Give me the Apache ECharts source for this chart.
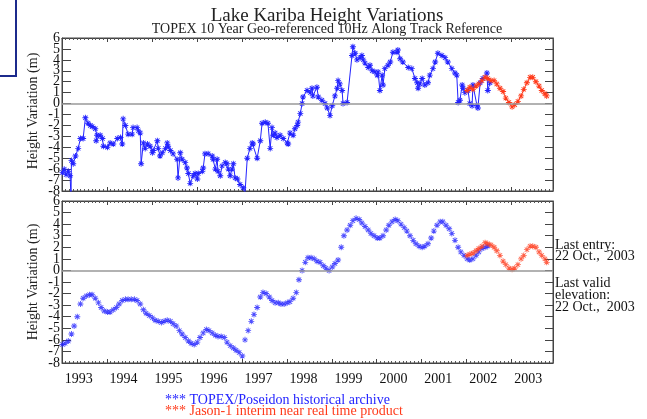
<!DOCTYPE html>
<html>
<head>
    <meta charset="utf-8">
    <script src="https://cdn.jsdelivr.net/npm/echarts@6/dist/echarts.min.js"></script>
</head>
<body style="margin:0">
    <div id="main" style="width: 647px; height: 419px"></div>
    <script type="text/javascript">
        // raw TOPEX heights (top panel)
        var topexRawYear = [1993.01, 1993.05, 1993.09, 1993.14, 1993.18, 1993.20, 1993.21, 1993.25, 1993.30, 1993.36,
            1993.41, 1993.47, 1993.52, 1993.58, 1993.63, 1993.67, 1993.74, 1993.78, 1993.76, 1993.85,
            1993.90, 1993.92, 1994.01, 1994.07, 1994.14, 1994.23, 1994.30, 1994.34, 1994.36, 1994.41,
            1994.47, 1994.56, 1994.58, 1994.67, 1994.70, 1994.74, 1994.76, 1994.81, 1994.85, 1994.90,
            1994.96, 1995.01, 1995.03, 1995.12, 1995.14, 1995.18, 1995.23, 1995.30, 1995.34, 1995.36,
            1995.41, 1995.47, 1995.56, 1995.58, 1995.63, 1995.67, 1995.74, 1995.78, 1995.81, 1995.85,
            1995.92, 1995.96, 1996.01, 1996.03, 1996.12, 1996.14, 1996.18, 1996.25, 1996.34, 1996.36,
            1996.41, 1996.45, 1996.47, 1996.52, 1996.56, 1996.63, 1996.67, 1996.70, 1996.74, 1996.78,
            1996.81, 1996.85, 1996.90, 1996.96, 1997.03, 1997.07, 1997.12, 1997.18, 1997.23, 1997.25,
            1997.34, 1997.41, 1997.45, 1997.52, 1997.58, 1997.63, 1997.67, 1997.70, 1997.74, 1997.78,
            1997.85, 1997.92, 1998.01, 1998.03, 1998.07, 1998.14, 1998.18, 1998.23, 1998.25, 1998.30,
            1998.34, 1998.36, 1998.45, 1998.52, 1998.56, 1998.58, 1998.67, 1998.70, 1998.78, 1998.85,
            1998.90, 1998.96, 1999.01, 1999.07, 1999.12, 1999.14, 1999.18, 1999.23, 1999.25, 1999.34,
            1999.45, 1999.47, 1999.52, 1999.56, 1999.63, 1999.67, 1999.70, 1999.74, 1999.81, 1999.85,
            1999.90, 1999.96, 2000.01, 2000.03, 2000.07, 2000.12, 2000.14, 2000.18, 2000.25, 2000.30,
            2000.36, 2000.45, 2000.47, 2000.52, 2000.58, 2000.70, 2000.78, 2000.85, 2000.90, 2000.92,
            2000.96, 2001.01, 2001.07, 2001.14, 2001.18, 2001.25, 2001.30, 2001.36, 2001.45, 2001.52,
            2001.58, 2001.67, 2001.74, 2001.78, 2001.81, 2001.85, 2001.90, 2001.92, 2001.96, 2002.03,
            2002.07, 2002.12, 2002.14, 2002.23, 2002.25, 2002.30, 2002.36, 2002.45, 2002.47, 2002.52];
        var topexRawHeight = [-6.3, -6.0, -6.5, -6.2, -6.6, -8.5, -5.2, -5.5, -4.8, -4.1,
            -3.2, -3.2, -1.3, -1.8, -2.0, -2.1, -2.3, -2.9, -3.4, -2.9,
            -3.2, -3.9, -4.0, -3.6, -3.7, -3.2, -3.1, -3.7, -1.4, -2.0,
            -2.8, -2.8, -2.2, -2.2, -2.5, -2.7, -5.5, -3.6, -4.1, -3.7,
            -3.9, -4.5, -4.3, -3.4, -4.1, -4.8, -4.5, -4.1, -3.6, -3.9,
            -4.3, -4.6, -5.1, -6.8, -4.5, -5.1, -5.4, -5.9, -6.4, -7.3,
            -6.6, -6.4, -6.9, -6.4, -6.2, -5.9, -4.6, -4.6, -4.8, -5.1,
            -6.0, -5.1, -6.2, -6.6, -5.7, -5.4, -5.5, -6.0, -6.6, -6.0,
            -5.5, -6.8, -6.9, -7.4, -7.7, -8.2, -5.0, -4.1, -3.6, -3.7,
            -5.0, -3.4, -1.8, -1.7, -1.8, -4.1, -2.2, -2.9, -2.7, -3.1,
            -2.9, -3.2, -3.6, -3.7, -2.7, -2.9, -2.3, -2.0, -1.7, -0.9,
            0.0, 0.6, 1.2, 1.0, 1.4, 0.7, 1.5, 0.6, 0.3, 0.0,
            -0.4, -1.1, -0.2, 0.7, 1.4, 2.1, 1.8, 1.2, 0.0, 0.1,
            4.4, 5.2, 4.6, 4.0, 4.2, 4.4, 4.0, 3.7, 3.3, 3.5,
            3.0, 2.9, 2.6, 2.9, 1.2, 2.6, 1.7, 3.2, 3.5, 3.8,
            4.7, 4.7, 4.9, 4.1, 3.8, 3.3, 3.2, 2.3, 1.9, 1.4,
            1.8, 2.3, 1.7, 1.9, 2.6, 3.2, 3.8, 4.6, 4.4, 4.2,
            3.8, 3.2, 2.8, 2.6, 0.1, 0.3, 1.7, 1.4, 1.0, 1.2,
            0.0, -0.2, 1.7, -0.2, -0.4, 1.9, 2.3, 2.8, 1.2, 1.9];

        // Jason-1 interim product (same dates in both panels)
        var jasonYear = [2002.01, 2002.07, 2002.14, 2002.21, 2002.27, 2002.34, 2002.41, 2002.47, 2002.54, 2002.61,
            2002.67, 2002.74, 2002.81, 2002.87, 2002.94, 2003.01, 2003.07, 2003.14, 2003.21, 2003.27,
            2003.34, 2003.41, 2003.47, 2003.54, 2003.61, 2003.67, 2003.74, 2003.78];
        var jasonRawHeight = [1.2, 1.5, 1.3, 1.6, 1.8, 2.1, 2.4, 2.3, 2.1, 2.1,
            1.8, 1.4, 1.1, 0.5, 0.1, -0.3, -0.1, 0.2, 0.7, 1.3,
            1.9, 2.4, 2.4, 2.0, 1.6, 1.2, 0.9, 0.7];
        var jasonSmoothHeight = [1.3, 1.4, 1.5, 1.7, 1.9, 2.1, 2.4, 2.3, 2.2, 2.0,
            1.7, 1.3, 0.8, 0.5, 0.2, 0.1, 0.2, 0.5, 1.0, 1.3,
            1.8, 2.1, 2.1, 2.0, 1.6, 1.3, 1.0, 0.7];

        // smoothed TOPEX heights (bottom panel)
        var topexSmoothYear = [1993.01, 1993.07, 1993.14, 1993.21, 1993.27, 1993.34, 1993.41, 1993.47, 1993.54, 1993.61, 1993.67, 1993.74, 1993.81, 1993.87, 1993.94,
            1994.01, 1994.07, 1994.14, 1994.21, 1994.27, 1994.34, 1994.41, 1994.47, 1994.54, 1994.61, 1994.67, 1994.74, 1994.81, 1994.87, 1994.94,
            1995.01, 1995.07, 1995.14, 1995.21, 1995.27, 1995.34, 1995.41, 1995.47, 1995.54, 1995.61, 1995.67, 1995.74, 1995.81, 1995.87, 1995.94,
            1996.01, 1996.07, 1996.14, 1996.21, 1996.27, 1996.34, 1996.41, 1996.47, 1996.54, 1996.61, 1996.67, 1996.74, 1996.81, 1996.87, 1996.94,
            1997.01, 1997.07, 1997.14, 1997.21, 1997.27, 1997.34, 1997.41, 1997.47, 1997.54, 1997.61, 1997.67, 1997.74, 1997.81, 1997.87, 1997.94,
            1998.01, 1998.07, 1998.14, 1998.21, 1998.27, 1998.34, 1998.41, 1998.47, 1998.54, 1998.61, 1998.67, 1998.74, 1998.81, 1998.87, 1998.94,
            1999.01, 1999.07, 1999.14, 1999.21, 1999.27, 1999.34, 1999.41, 1999.47, 1999.54, 1999.61, 1999.67, 1999.74, 1999.81, 1999.87, 1999.94,
            2000.01, 2000.07, 2000.14, 2000.21, 2000.27, 2000.34, 2000.41, 2000.47, 2000.54, 2000.61, 2000.67, 2000.74, 2000.81, 2000.87, 2000.94,
            2001.01, 2001.07, 2001.14, 2001.21, 2001.27, 2001.34, 2001.41, 2001.47, 2001.54, 2001.61, 2001.67, 2001.74, 2001.81, 2001.87, 2001.94,
            2002.01, 2002.07, 2002.14, 2002.21, 2002.27, 2002.34, 2002.41, 2002.47];
        var topexSmoothHeight = [-6.4, -6.3, -6.1, -5.5, -4.8, -4.0, -2.9, -2.4, -2.2, -2.1, -2.1, -2.4, -2.8, -3.2, -3.5,
            -3.6, -3.6, -3.4, -3.2, -2.9, -2.6, -2.5, -2.5, -2.5, -2.5, -2.6, -2.9, -3.4, -3.7, -3.9,
            -4.1, -4.3, -4.4, -4.5, -4.4, -4.3, -4.4, -4.6, -4.8, -5.2, -5.5, -5.8, -6.1, -6.3, -6.4,
            -6.2, -5.8, -5.4, -5.1, -5.2, -5.4, -5.6, -5.7, -5.7, -5.8, -6.2, -6.5, -6.7, -6.9, -7.1,
            -7.4, -6.0, -5.2, -4.4, -3.8, -3.2, -2.3, -1.9, -2.0, -2.3, -2.6, -2.8, -2.8, -2.9, -2.9,
            -2.8, -2.7, -2.4, -1.9, -0.8, 0.0, 0.7, 1.1, 1.1, 1.0, 0.8, 0.7, 0.4, 0.2, 0.0,
            0.3, 0.6, 0.9, 2.0, 3.0, 3.5, 3.9, 4.3, 4.5, 4.4, 4.1, 3.8, 3.5, 3.2, 3.0,
            2.8, 2.8, 3.0, 3.5, 3.9, 4.2, 4.4, 4.3, 4.0, 3.7, 3.4, 3.0, 2.6, 2.3, 2.1,
            2.0, 2.1, 2.3, 2.8, 3.4, 3.9, 4.2, 4.2, 3.9, 3.6, 3.2, 2.6, 2.0, 1.6, 1.3,
            1.0, 0.9, 1.0, 1.3, 1.6, 1.9, 2.0, 2.1];

        var yearLabels = [1993, 1994, 1995, 1996, 1997, 1998, 1999, 2000, 2001, 2002, 2003];
        var edgeHeights = [-8, 6];

        var blue = '#2323ff';
        var red = '#ff3a1a';
        var serif = 'Liberation Serif';
        var star = 'path://M-0.6,-4H0.6V4H-0.6Z M-4,-0.6H4V0.6H-4Z M-3.3,-2.5L-2.5,-3.3L3.3,2.5L2.5,3.3Z M2.5,-3.3L3.3,-2.5L-2.5,3.3L-3.3,2.5Z';

        function zip(xs, ys) {
            var out = [];
            for (var i = 0; i < xs.length; i++) out.push([xs[i], ys[i]]);
            return out;
        }

        function xAxisFor(grid, pos, withLabels) {
            return {
                type: 'value', gridIndex: grid, position: pos,
                min: 1993, max: 2003.92, interval: 1,
                axisLine: { onZero: false, lineStyle: { color: '#444' } },
                axisTick: { inside: true, length: 4, lineStyle: { color: '#444' } },
                minorTick: { show: true, splitNumber: 12, length: 2, lineStyle: { color: '#555' } },
                splitLine: { show: false },
                axisLabel: withLabels ? {
                    customValues: yearLabels.map(function (y) { return y + 0.37; }),
                    formatter: function (v) { return String(Math.floor(v)); },
                    fontFamily: serif, fontSize: 14, color: '#111', margin: 9
                } : { show: false }
            };
        }

        function yAxisFor(grid, pos, withLabels) {
            return {
                type: 'value', gridIndex: grid, position: pos,
                min: -8, max: 6, interval: 1,
                axisLine: { onZero: false, lineStyle: { color: '#444' } },
                axisTick: { inside: true, length: pos == 'left' ? 9 : 8, lineStyle: { color: '#444' } },
                splitLine: { show: false },
                axisLabel: withLabels ? {
                    fontFamily: serif, fontSize: 14, color: '#111', margin: 2,
                    showMinLabel: false, showMaxLabel: false
                } : { show: false }
            };
        }

        // extra label-only axis for the crowded end labels (6 and -8)
        function edgeAxisFor(grid) {
            return {
                type: 'value', gridIndex: grid, position: 'left',
                min: -8, max: 6, interval: 1,
                axisLine: { show: false }, axisTick: { show: false }, splitLine: { show: false },
                axisLabel: {
                    customValues: edgeHeights, showMinLabel: true, showMaxLabel: true,
                    fontFamily: serif, fontSize: 14, color: '#111', margin: 2
                }
            };
        }

        var zeroLine = {
            silent: true, symbol: 'none', label: { show: false },
            lineStyle: { color: '#999', width: 1.5, type: 'solid' },
            data: [{ yAxis: 0 }]
        };

        var myChart = echarts.init(document.getElementById('main'));
        var option = {
            animation: false,
            backgroundColor: '#fff',
            grid: [
                { left: 62, top: 38, width: 491, height: 153, show: true, borderColor: '#444', borderWidth: 1 },
                { left: 62, top: 201, width: 491, height: 162, show: true, borderColor: '#444', borderWidth: 1 }
            ],
            xAxis: [xAxisFor(0, 'bottom', false), xAxisFor(0, 'top', false), xAxisFor(1, 'bottom', true), xAxisFor(1, 'top', false)],
            yAxis: [yAxisFor(0, 'left', true), yAxisFor(0, 'right', false), yAxisFor(1, 'left', true), yAxisFor(1, 'right', false),
                edgeAxisFor(0), edgeAxisFor(1)],
            series: [
                {
                    name: 'TOPEX raw', type: 'line', xAxisIndex: 0, yAxisIndex: 0,
                    data: zip(topexRawYear, topexRawHeight),
                    symbol: star, symbolSize: 6, showAllSymbol: true,
                    itemStyle: { color: blue }, lineStyle: { color: blue, width: 1 },
                    markLine: zeroLine
                },
                {
                    name: 'Jason raw', type: 'line', xAxisIndex: 0, yAxisIndex: 0,
                    data: zip(jasonYear, jasonRawHeight),
                    symbol: star, symbolSize: 6, showAllSymbol: true,
                    itemStyle: { color: red }, lineStyle: { color: red, width: 1 }
                },
                {
                    name: 'TOPEX smoothed', type: 'scatter', xAxisIndex: 2, yAxisIndex: 2,
                    data: zip(topexSmoothYear, topexSmoothHeight),
                    symbol: star, symbolSize: 6,
                    itemStyle: { color: blue },
                    markLine: zeroLine
                },
                {
                    name: 'Jason smoothed', type: 'scatter', xAxisIndex: 2, yAxisIndex: 2,
                    data: zip(jasonYear, jasonSmoothHeight),
                    symbol: star, symbolSize: 6,
                    itemStyle: { color: red }
                }
            ],
            graphic: [
                { type: 'rect', shape: { x: -4, y: -4, width: 20, height: 80 }, style: { fill: 'none', stroke: '#1c2a8c', lineWidth: 2 } },
                { type: 'text', x: 327, y: 16, style: { text: 'Lake Kariba Height Variations', font: '19px "Liberation Serif"', fill: '#222', textAlign: 'center', textVerticalAlign: 'middle' } },
                { type: 'text', x: 327, y: 29, style: { text: 'TOPEX 10 Year Geo-referenced 10Hz Along Track Reference', font: '14px "Liberation Serif"', fill: '#222', textAlign: 'center', textVerticalAlign: 'middle' } },
                { type: 'text', x: 33, y: 111, rotation: Math.PI / 2, style: { text: 'Height Variation (m)', font: '14px "Liberation Serif"', fill: '#222', textAlign: 'center', textVerticalAlign: 'middle' } },
                { type: 'text', x: 33, y: 282, rotation: Math.PI / 2, style: { text: 'Height Variation (m)', font: '14px "Liberation Serif"', fill: '#222', textAlign: 'center', textVerticalAlign: 'middle' } },
                { type: 'text', x: 555, y: 240, style: { text: 'Last entry:\n22 Oct.,  2003', font: '14px "Liberation Serif"', fill: '#111', lineHeight: 11 } },
                { type: 'text', x: 555, y: 277, style: { text: 'Last valid\nelevation:\n22 Oct.,  2003', font: '14px "Liberation Serif"', fill: '#111', lineHeight: 12 } },
                { type: 'text', x: 165, y: 400, style: { text: '*** TOPEX/Poseidon historical archive', font: '14px "Liberation Serif"', fill: blue, textVerticalAlign: 'middle' } },
                { type: 'text', x: 165, y: 411, style: { text: '*** Jason-1 interim near real time product', font: '14px "Liberation Serif"', fill: red, textVerticalAlign: 'middle' } }
            ]
        };
        myChart.setOption(option);
    </script>
</body>
</html>
